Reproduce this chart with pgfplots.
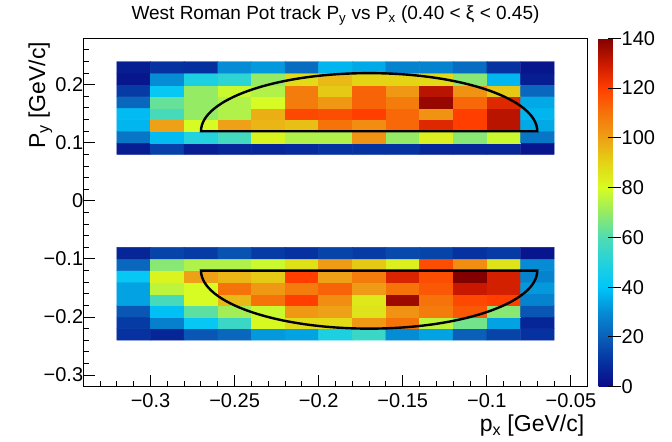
\documentclass[border=0pt]{standalone}
\usepackage{fontspec}
\setmainfont{Liberation Sans}
\usepackage{pgfplots}
\pgfplotsset{compat=1.18}

% ROOT-like rainbow palette, stops every 10 counts from 0 to 140
\pgfplotsset{
  colormap={rootrainbow}{
    rgb255=(10,10,135)   rgb255=(5,50,160)    rgb255=(10,95,185)
    rgb255=(5,140,212)   rgb255=(0,198,250)   rgb255=(35,210,220)
    rgb255=(80,220,178)  rgb255=(150,235,100) rgb255=(215,252,35)
    rgb255=(228,212,20)  rgb255=(238,160,22)  rgb255=(246,115,10)
    rgb255=(255,62,0)    rgb255=(200,25,0)    rgb255=(130,0,0)
  },
}

\newcommand{\ticklabelfont}{\fontsize{20bp}{22bp}\selectfont}
\newcommand{\axistitlefont}{\fontsize{23bp}{26bp}\selectfont}

\begin{document}
\begin{tikzpicture}
\path[use as bounding box] (0,0) rectangle (672bp,442bp);
\begin{axis}[
  at={(83.3bp,55.3bp)}, anchor=south west,
  scale only axis, width=504.4bp, height=348.4bp,
  xmin=-0.34, xmax=-0.04, ymin=-0.32, ymax=0.28,
  axis line style={line width=1bp},
  tick pos=left, tick align=inside,
  major tick length=12bp, minor tick length=6bp,
  every tick/.style={black, line width=1bp},
  xtick={-0.3,-0.25,-0.2,-0.15,-0.1,-0.05},
  xticklabels={−0.3,−0.25,−0.2,−0.15,−0.1,−0.05},
  minor xtick={-0.33,-0.32,-0.31,-0.29,-0.28,-0.27,-0.26,-0.24,-0.23,-0.22,-0.21,
               -0.19,-0.18,-0.17,-0.16,-0.14,-0.13,-0.12,-0.11,-0.09,-0.08,-0.07,-0.06},
  ytick={-0.3,-0.2,-0.1,0,0.1,0.2},
  yticklabels={−0.3,−0.2,−0.1,0,0.1,0.2},
  minor ytick={-0.30,-0.28,-0.26,-0.24,-0.22,-0.18,-0.16,-0.14,-0.12,-0.08,-0.06,-0.04,-0.02,
               0.02,0.04,0.06,0.08,0.12,0.14,0.16,0.18,0.22,0.24,0.26},
  xticklabel style={font=\ticklabelfont, yshift=-3.3bp},
  yticklabel style={font=\ticklabelfont, xshift=3.4bp},
  title={West Roman Pot track P\textsubscript{y} vs P\textsubscript{x} (0.40 < ξ < 0.45)},
  title style={at={(axis description cs:0.5,1)}, anchor=base, yshift=13bp,
               font=\fontsize{19bp}{21bp}\selectfont},
  xlabel={p\textsubscript{x} [GeV/c]},
  xlabel style={at={(axis description cs:1,-0.129)}, anchor=base east, font=\axistitlefont},
  ylabel={P\textsubscript{y} [GeV/c]},
  ylabel style={at={(axis description cs:-0.0755,1)}, anchor=base east, font=\axistitlefont},
  colormap name=rootrainbow,
  point meta min=0, point meta max=140,
  colorbar,
  colorbar style={
    at={(parent axis.north east)}, anchor=north west, xshift=2.3bp,
    scale only axis, width=22bp, height=348.4bp,
    axis line style={draw=none},
    ytick={0,20,40,60,80,100,120,140},
    yticklabels={0,20,40,60,80,100,120,140},
    ytick pos=right, yticklabel pos=right, tick align=inside,
    major tick length=13bp,
    every tick/.style={black, line width=1bp},
    yticklabel style={font=\ticklabelfont, xshift=-2.3bp},
  },
]

% upper band: p_y between 0.08 and 0.24
\addplot[matrix plot*, mesh/cols=13, point meta=explicit] coordinates {
(-0.31,0.09)[5] (-0.29,0.09)[13] (-0.27,0.09)[5] (-0.25,0.09)[7] (-0.23,0.09)[7] (-0.21,0.09)[8] (-0.19,0.09)[10] (-0.17,0.09)[10] (-0.15,0.09)[10] (-0.13,0.09)[7] (-0.11,0.09)[7] (-0.09,0.09)[7] (-0.07,0.09)[3]
(-0.31,0.11)[25] (-0.29,0.11)[38] (-0.27,0.11)[50] (-0.25,0.11)[57] (-0.23,0.11)[82] (-0.21,0.11)[74] (-0.19,0.11)[74] (-0.17,0.11)[103] (-0.15,0.11)[70] (-0.13,0.11)[83] (-0.11,0.11)[68] (-0.09,0.11)[78] (-0.07,0.11)[25]
(-0.31,0.13)[37] (-0.29,0.13)[100] (-0.27,0.13)[80] (-0.25,0.13)[100] (-0.23,0.13)[96] (-0.21,0.13)[94] (-0.19,0.13)[110] (-0.17,0.13)[104] (-0.15,0.13)[112] (-0.13,0.13)[126] (-0.11,0.13)[120] (-0.09,0.13)[132] (-0.07,0.13)[35]
(-0.31,0.15)[38] (-0.29,0.15)[58] (-0.27,0.15)[70] (-0.25,0.15)[74] (-0.23,0.15)[97] (-0.21,0.15)[118] (-0.19,0.15)[117] (-0.17,0.15)[120] (-0.15,0.15)[112] (-0.13,0.15)[103] (-0.11,0.15)[120] (-0.09,0.15)[132] (-0.07,0.15)[37]
(-0.31,0.17)[22] (-0.29,0.17)[63] (-0.27,0.17)[70] (-0.25,0.17)[74] (-0.23,0.17)[80] (-0.21,0.17)[108] (-0.19,0.17)[102] (-0.17,0.17)[113] (-0.15,0.17)[108] (-0.13,0.17)[137] (-0.11,0.17)[112] (-0.09,0.17)[126] (-0.07,0.17)[35]
(-0.31,0.19)[12] (-0.29,0.19)[42] (-0.27,0.19)[70] (-0.25,0.19)[78] (-0.23,0.19)[74] (-0.21,0.19)[108] (-0.19,0.19)[92] (-0.17,0.19)[113] (-0.15,0.19)[102] (-0.13,0.19)[132] (-0.11,0.19)[103] (-0.09,0.19)[92] (-0.07,0.19)[22]
(-0.31,0.21)[3] (-0.29,0.21)[30] (-0.27,0.21)[48] (-0.25,0.21)[52] (-0.23,0.21)[70] (-0.21,0.21)[88] (-0.19,0.21)[95] (-0.17,0.21)[90] (-0.15,0.21)[90] (-0.13,0.21)[89] (-0.11,0.21)[68] (-0.09,0.21)[37] (-0.07,0.21)[5]
(-0.31,0.23)[5] (-0.29,0.23)[10] (-0.27,0.23)[9] (-0.25,0.23)[30] (-0.23,0.23)[32] (-0.21,0.23)[23] (-0.19,0.23)[37] (-0.17,0.23)[35] (-0.15,0.23)[28] (-0.13,0.23)[28] (-0.11,0.23)[23] (-0.09,0.23)[10] (-0.07,0.23)[3]
};

% lower band: p_y between -0.24 and -0.08
\addplot[matrix plot*, mesh/cols=13, point meta=explicit] coordinates {
(-0.31,-0.23)[10] (-0.29,-0.23)[7] (-0.27,-0.23)[18] (-0.25,-0.23)[22] (-0.23,-0.23)[32] (-0.21,-0.23)[34] (-0.19,-0.23)[48] (-0.17,-0.23)[55] (-0.15,-0.23)[30] (-0.13,-0.23)[34] (-0.11,-0.23)[20] (-0.09,-0.23)[14] (-0.07,-0.23)[10]
(-0.31,-0.21)[12] (-0.29,-0.21)[27] (-0.27,-0.21)[42] (-0.25,-0.21)[55] (-0.23,-0.21)[81] (-0.21,-0.21)[88] (-0.19,-0.21)[88] (-0.17,-0.21)[102] (-0.15,-0.21)[110] (-0.13,-0.21)[76] (-0.11,-0.21)[65] (-0.09,-0.21)[34] (-0.07,-0.21)[7]
(-0.31,-0.19)[18] (-0.29,-0.19)[39] (-0.27,-0.19)[62] (-0.25,-0.19)[72] (-0.23,-0.19)[78] (-0.21,-0.19)[102] (-0.19,-0.19)[100] (-0.17,-0.19)[86] (-0.15,-0.19)[103] (-0.13,-0.19)[108] (-0.11,-0.19)[115] (-0.09,-0.19)[68] (-0.07,-0.19)[18]
(-0.31,-0.17)[34] (-0.29,-0.17)[58] (-0.27,-0.17)[80] (-0.25,-0.17)[95] (-0.23,-0.17)[110] (-0.21,-0.17)[120] (-0.19,-0.17)[104] (-0.17,-0.17)[85] (-0.15,-0.17)[136] (-0.13,-0.17)[110] (-0.11,-0.17)[118] (-0.09,-0.17)[120] (-0.07,-0.17)[28]
(-0.31,-0.15)[34] (-0.29,-0.15)[76] (-0.27,-0.15)[80] (-0.25,-0.15)[110] (-0.23,-0.15)[102] (-0.21,-0.15)[108] (-0.19,-0.15)[113] (-0.17,-0.15)[101] (-0.15,-0.15)[110] (-0.13,-0.15)[115] (-0.11,-0.15)[130] (-0.09,-0.15)[128] (-0.07,-0.15)[32]
(-0.31,-0.13)[42] (-0.29,-0.13)[82] (-0.27,-0.13)[100] (-0.25,-0.13)[96] (-0.23,-0.13)[92] (-0.21,-0.13)[120] (-0.19,-0.13)[100] (-0.17,-0.13)[108] (-0.15,-0.13)[127] (-0.13,-0.13)[117] (-0.11,-0.13)[140] (-0.09,-0.13)[128] (-0.07,-0.13)[28]
(-0.31,-0.11)[22] (-0.29,-0.11)[68] (-0.27,-0.11)[74] (-0.25,-0.11)[74] (-0.23,-0.11)[78] (-0.21,-0.11)[87] (-0.19,-0.11)[101] (-0.17,-0.11)[92] (-0.15,-0.11)[83] (-0.13,-0.11)[117] (-0.11,-0.11)[104] (-0.09,-0.11)[86] (-0.07,-0.11)[30]
(-0.31,-0.09)[7] (-0.29,-0.09)[14] (-0.27,-0.09)[12] (-0.25,-0.09)[17] (-0.23,-0.09)[12] (-0.21,-0.09)[10] (-0.19,-0.09)[14] (-0.17,-0.09)[12] (-0.15,-0.09)[15] (-0.13,-0.09)[14] (-0.11,-0.09)[10] (-0.09,-0.09)[12] (-0.07,-0.09)[3]
};

% half-elliptical selection contours
\draw[black, line width=2.4bp]
  (axis cs:-0.07,0.12) arc[start angle=0, end angle=180, x radius=0.1, y radius=0.1] -- cycle;
\draw[black, line width=2.4bp]
  (axis cs:-0.07,-0.12) arc[start angle=0, end angle=-180, x radius=0.1, y radius=0.1] -- cycle;
\end{axis}
\end{tikzpicture}
\end{document}
